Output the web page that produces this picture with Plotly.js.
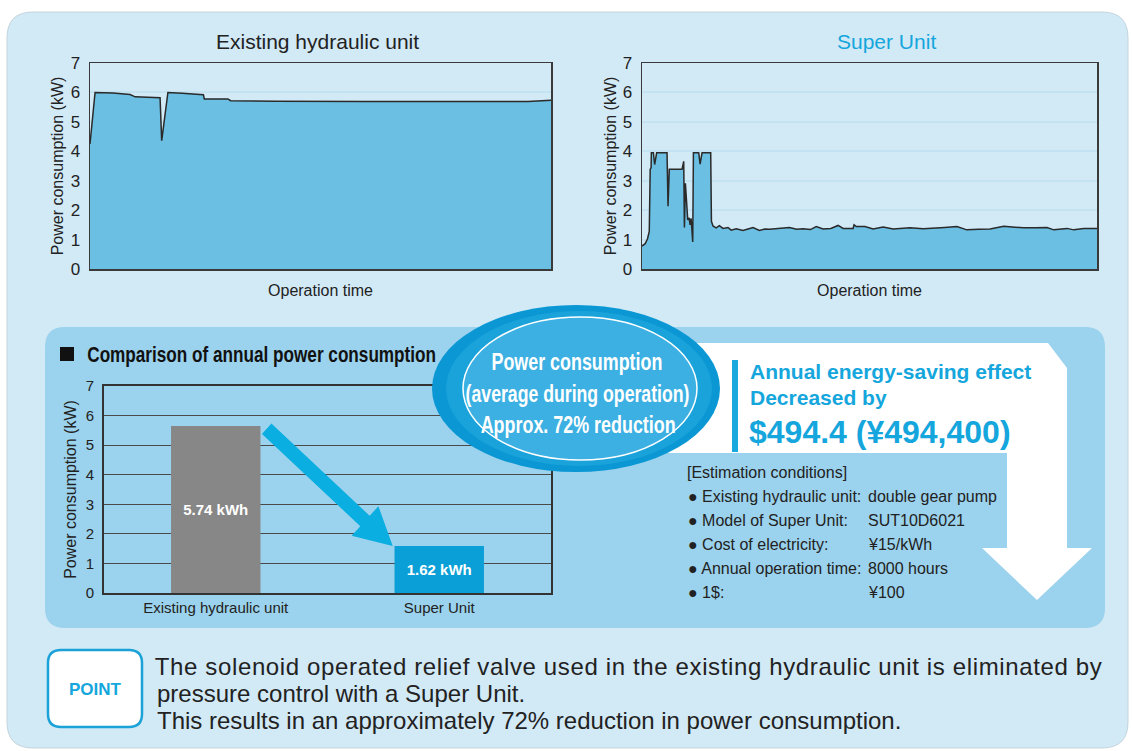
<!DOCTYPE html>
<html><head><meta charset="utf-8">
<script src="https://cdn.plot.ly/plotly-3.0.1.min.js"></script>
<style>html,body{margin:0;padding:0;background:#fff;overflow:hidden}#chart{width:1132px;height:751px}</style>
</head><body><div id="chart"></div>
<script>
// ---------- data ----------
const existingTime = [0, 1.1, 5, 8.7, 9.8, 15.2, 15.55, 16.9, 20, 24.6, 24.8, 29.9, 30.5, 40, 60, 80, 95, 100];
const existingKW   = [4.25, 6.0, 5.98, 5.93, 5.85, 5.82, 4.36, 6.0, 5.97, 5.92, 5.78, 5.78, 5.72, 5.70, 5.69, 5.68, 5.69, 5.73];

const superTime = [0, 0.7, 1.2, 1.6, 1.8, 2.0, 2.05, 2.5, 2.78, 3.22, 5.5, 5.72, 6.0, 8.8, 9.17, 9.32, 9.54, 10.05, 10.35, 10.57, 10.79, 11.15, 11.3, 12.47, 12.77, 13.2, 15.1, 15.26, 15.6, 16.3, 17.0, 17.8, 18.9, 19.6, 20.7, 22.2, 23.3, 24.4, 25.8, 27.0, 28.0, 30.0, 32.4, 34.0, 35.4, 37.0, 38.3, 39.8, 41.5, 43.1, 44.2, 46.4, 46.6, 47.1, 49.0, 50.8, 53.0, 55.2, 57.0, 58.9, 61.8, 64.0, 66.5, 69.2, 71.4, 74.0, 76.5, 79.5, 83.9, 86.5, 89.0, 90.5, 92.0, 93.4, 94.9, 97.1, 100];
const superKW   = [0.78, 0.86, 1.02, 1.28, 3.38, 3.45, 3.95, 3.95, 3.55, 3.95, 3.95, 2.13, 3.39, 3.39, 3.66, 1.41, 2.91, 1.67, 1.74, 1.50, 1.72, 0.92, 3.95, 3.95, 3.56, 3.95, 3.95, 1.62, 1.46, 1.40, 1.47, 1.38, 1.41, 1.32, 1.37, 1.31, 1.36, 1.41, 1.31, 1.36, 1.35, 1.38, 1.41, 1.35, 1.37, 1.34, 1.44, 1.36, 1.38, 1.48, 1.38, 1.38, 1.50, 1.44, 1.44, 1.36, 1.43, 1.36, 1.39, 1.40, 1.37, 1.40, 1.41, 1.44, 1.33, 1.35, 1.36, 1.45, 1.40, 1.40, 1.41, 1.33, 1.36, 1.38, 1.33, 1.38, 1.38];

const barCategories = ["Existing hydraulic unit", "Super Unit"];
const barValues     = [5.65, 1.59];
const barLabels     = ["5.74 kWh", "1.62 kWh"];
const barColors     = ["#878787", "#0a9fd6"];

const yTickVals = [0, 1, 2, 3, 4, 5, 6, 7];

const ellipseLines = ["Power consumption", "(average during operation)", "Approx. 72% reduction"];
const savingLines  = ["Annual energy-saving effect", "Decreased by"];
const savingAmount = "$494.4 (¥494,400)";
const conditionsTitle = "[Estimation conditions]";
const conditionKeys   = ["Existing hydraulic unit:", "Model of Super Unit:", "Cost of electricity:", "Annual operation time:", "1$:"];
const conditionValues = ["double gear pump", "SUT10D6021", "¥15/kWh", "8000 hours", "¥100"];
const pointLines = [
  "The solenoid operated relief valve used in the existing hydraulic unit is eliminated by",
  "pressure control with a Super Unit.",
  "This results in an approximately 72% reduction in power consumption."
];

// ---------- helpers (pixel -> paper) ----------
const W = 1132, H = 751;
const px = x => x / W, py = y => 1 - y / H;
const P = (x, y) => px(x).toFixed(5) + ',' + py(y).toFixed(5);
function roundRect(x0, y0, x1, y1, r) {
  return `M${P(x0+r,y0)} L${P(x1-r,y0)} Q${P(x1,y0)} ${P(x1,y0+r)} L${P(x1,y1-r)} Q${P(x1,y1)} ${P(x1-r,y1)} L${P(x0+r,y1)} Q${P(x0,y1)} ${P(x0,y1-r)} L${P(x0,y0+r)} Q${P(x0,y0)} ${P(x0+r,y0)} Z`;
}
function poly(pts) { return 'M' + pts.map(p => P(p[0], p[1])).join(' L') + ' Z'; }

const SANS = "Liberation Sans, Arial, Helvetica, sans-serif";
const CYAN = "#14a6dc";
const TXT = "#222222";

// ---------- traces ----------
const areaStyle = {type: 'scatter', mode: 'lines', fill: 'tozeroy', fillcolor: '#6abfe3',
  line: {color: '#2a2a2a', width: 1.5}, hoverinfo: 'skip', showlegend: false};
const traces = [
  Object.assign({x: existingTime, y: existingKW, xaxis: 'x', yaxis: 'y'}, areaStyle),
  Object.assign({x: superTime, y: superKW, xaxis: 'x2', yaxis: 'y2'}, areaStyle),
  {type: 'bar', x: barCategories, y: barValues, xaxis: 'x3', yaxis: 'y3', width: 0.4,
   marker: {color: barColors, line: {width: 0}}, text: barLabels, textposition: 'inside',
   insidetextanchor: 'middle', textangle: 0, constraintext: 'none',
   textfont: {family: SANS, size: 15, color: '#ffffff', weight: 'bold'},
   hoverinfo: 'skip', showlegend: false}
];

// ---------- axes ----------
function timeAxis(dom, anchor) {
  return {domain: dom, anchor: anchor, range: [0, 100], showticklabels: false, ticks: '',
    showgrid: false, zeroline: false, showline: true, mirror: true, linecolor: '#3a3a3a', linewidth: 1.5,
    title: {text: 'Operation time', font: {family: SANS, size: 16, color: TXT}, standoff: 15}, fixedrange: true};
}
function kwAxis(dom, anchor, grid, gw, tsize, lc, lw, st) {
  return {domain: dom, anchor: anchor, range: [0, 7], tickvals: yTickVals, ticks: '',
    showgrid: true, gridcolor: grid, gridwidth: gw, zeroline: false, showline: true, mirror: true,
    linecolor: lc, linewidth: lw, tickfont: {family: SANS, size: tsize, color: TXT}, ticklabelstandoff: 5,
    title: {text: 'Power consumption (kW)', font: {family: SANS, size: 16, color: TXT}, standoff: st}, fixedrange: true};
}

// ---------- shapes ----------
const shapes = [
  {type: 'path', xref: 'paper', yref: 'paper', path: roundRect(7, 12, 1128, 748, 26), fillcolor: '#d2e9f6', line: {color: '#c4d4dc', width: 1}, layer: 'below'},
  {type: 'path', xref: 'paper', yref: 'paper', path: roundRect(45, 327, 1105, 628, 20), fillcolor: '#9bd2ed', line: {width: 0}, layer: 'below'},
  {type: 'path', xref: 'paper', yref: 'paper', path: poly([[640,343],[1048,343],[1067,368],[1067,548],[1092,548],[1037,600],[982,548],[1007,548],[1007,453],[640,453]]), fillcolor: '#ffffff', line: {width: 0}, layer: 'below'},
  {type: 'rect', xref: 'paper', yref: 'paper', x0: px(732), x1: px(738), y0: py(452), y1: py(360), fillcolor: '#1aa9de', line: {width: 0}, layer: 'below'},
  {type: 'path', xref: 'paper', yref: 'paper', path: roundRect(48, 650, 142, 727, 13), fillcolor: '#ffffff', line: {color: '#1ba2d8', width: 2.5}, layer: 'below'},
  {type: 'rect', xref: 'paper', yref: 'paper', x0: px(60), x1: px(74), y0: py(361), y1: py(347), fillcolor: '#111111', line: {width: 0}, layer: 'above'},
  {type: 'path', xref: 'paper', yref: 'paper', path: poly([[271.4,423.6],[369.7,515.8],[378.4,506.2],[392.7,546],[351.6,535.8],[360.3,526.2],[262.0,434.0]]), fillcolor: '#0aaee0', line: {width: 0}, layer: 'above'},
  {type: 'circle', xref: 'paper', yref: 'paper', x0: px(432), x1: px(720), y0: py(472), y1: py(305), fillcolor: '#0a97d3', line: {width: 0}, layer: 'above'},
  {type: 'circle', xref: 'paper', yref: 'paper', x0: px(446), x1: px(712), y0: py(466), y1: py(311), fillcolor: '#1aa2da', line: {width: 0}, layer: 'above'},
  {type: 'circle', xref: 'paper', yref: 'paper', x0: px(463), x1: px(697), y0: py(460), y1: py(317), fillcolor: '#3cb0e2', line: {color: '#ffffff', width: 1.5}, layer: 'above'}
];

// ---------- annotations ----------
function ann(text, x, y, opt) {
  return Object.assign({text: text, x: px(x), y: py(y), xref: 'paper', yref: 'paper', showarrow: false,
    xanchor: 'left', yanchor: 'middle', font: {family: SANS, size: 16, color: TXT}}, opt || {});
}
const titleCx = 87 + 349 / 2;
const annotations = [
  ann('Existing hydraulic unit', 317, 41, {xanchor: 'center', font: {family: SANS, size: 21, color: TXT}}),
  ann('Super Unit', 886, 41, {xanchor: 'center', font: {family: SANS, size: 21, color: CYAN}}),
  ann('Comparison of annual power consumption', titleCx, 354, {xanchor: 'center', font: {family: SANS, size: 22, color: '#111', weight: 'bold'}}),
  ann(ellipseLines[0], 577, 362, {xanchor: 'center', font: {family: SANS, size: 23, color: '#fff', weight: 'bold'}}),
  ann(ellipseLines[1], 577, 394, {xanchor: 'center', font: {family: SANS, size: 23, color: '#fff', weight: 'bold'}}),
  ann(ellipseLines[2], 578, 425, {xanchor: 'center', font: {family: SANS, size: 23, color: '#fff', weight: 'bold'}}),
  ann(savingLines[0], 748, 371, {font: {family: SANS, size: 21, color: CYAN, weight: 'bold'}}),
  ann(savingLines[1], 748, 397, {font: {family: SANS, size: 21, color: CYAN, weight: 'bold'}}),
  ann(savingAmount, 747, 432, {font: {family: SANS, size: 32, color: CYAN, weight: 'bold'}}),
  ann(conditionsTitle, 685, 472, {font: {family: SANS, size: 16, color: TXT}}),
  ann('POINT', 95, 689, {xanchor: 'center', font: {family: SANS, size: 17, color: CYAN, weight: 'bold'}})
];
conditionKeys.forEach((k, i) => {
  annotations.push(ann('● ' + k, 686, 496 + i * 24, {font: {family: SANS, size: 16, color: TXT}}));
  annotations.push(ann(conditionValues[i], 866, 496 + i * 24, {font: {family: SANS, size: 16, color: TXT}}));
});
const pointStart = annotations.length;
pointLines.forEach((t, i) => {
  const opt = {font: {family: SANS, size: 24, color: TXT}};
  if (i === 0) opt.xanchor = 'center';
  annotations.push(ann(t, i === 0 ? 155 + 947 / 2 : 155, [666, 693, 720][i], opt));
});

// condensed texts: [annotation index, centre x (px), target width (px)]
const condensed = [[2, titleCx, 349], [3, 577, 171], [4, 577, 224], [5, 578, 195]];

const layout = {
  width: W, height: H, margin: {l: 0, r: 0, t: 0, b: 0},
  paper_bgcolor: '#ffffff', plot_bgcolor: '#ffffff', showlegend: false,
  font: {family: SANS, color: TXT},
  xaxis: timeAxis([px(90), px(551)], 'y'),
  yaxis: kwAxis([py(269), py(63)], 'x', '#c3e2f2', 2, 17, '#3a3a3a', 1.5, 3),
  xaxis2: timeAxis([px(642), px(1097)], 'y2'),
  yaxis2: kwAxis([py(269), py(63)], 'x2', '#c3e2f2', 2, 17, '#3a3a3a', 1.5, 2),
  xaxis3: {domain: [px(104), px(551)], anchor: 'y3', type: 'category', range: [-0.5, 1.5], ticks: '',
    showgrid: false, zeroline: false, showline: true, mirror: true, linecolor: '#333', linewidth: 2,
    tickfont: {family: SANS, size: 15, color: TXT}, ticklabelstandoff: 0, fixedrange: true},
  yaxis3: kwAxis([py(593), py(386)], 'x3', '#4a4a4a', 1.2, 15, '#333', 2, 5),
  shapes: shapes, annotations: annotations
};
Plotly.newPlot('chart', traces, layout, {displayModeBar: false, staticPlot: true}).then(() => {
  condensed.forEach(([idx, cx, w]) => {
    const g = document.querySelector('.annotation[data-index="' + idx + '"]');
    const t = g && g.querySelector('text');
    if (!t) return;
    const s = w / t.getComputedTextLength();
    g.setAttribute('transform', `translate(${cx},0) scale(${s},1) translate(${-cx},0)`);
  });
  const first = document.querySelector('.annotation[data-index="' + pointStart + '"] text');
  if (first) { first.setAttribute('textLength', 947); first.setAttribute('lengthAdjust', 'spacing'); }
});
</script>
</body></html>
